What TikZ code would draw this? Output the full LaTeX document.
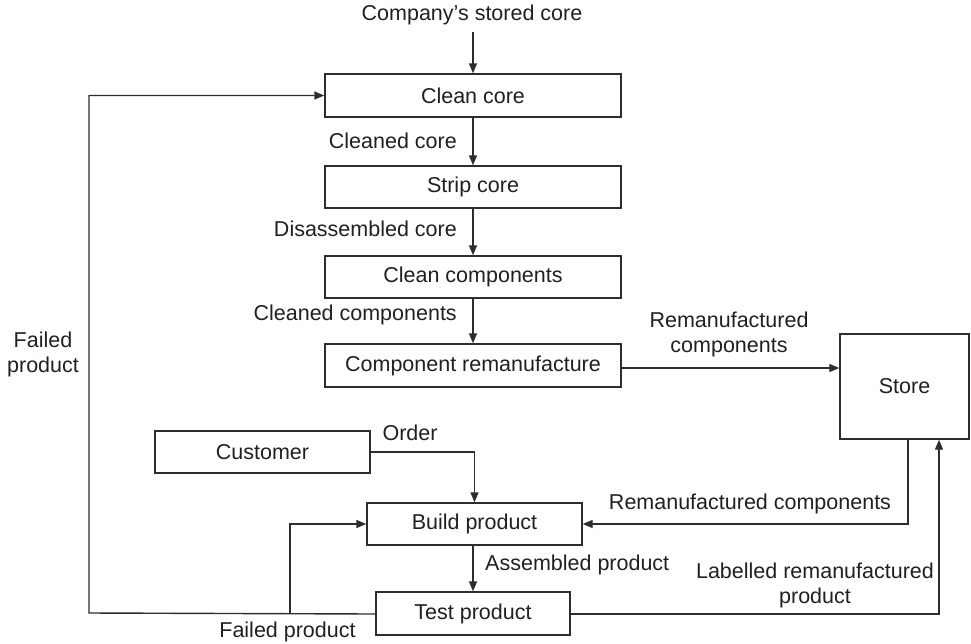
\documentclass[tikz,border=0pt]{standalone}
\usepackage{fontspec}
\setmainfont{Liberation Sans}
\usetikzlibrary{arrows.meta}
\definecolor{ink}{RGB}{35,31,32}
\definecolor{linec}{RGB}{45,45,45}
\begin{document}
\begin{tikzpicture}[x=1pt,y=-1pt,
  font=\fontsize{21.5}{25}\selectfont, text=ink,
  box/.style={draw=linec, line width=1.4pt, rectangle, inner sep=0pt, align=center},
  lbl/.style={inner sep=0pt, align=center},
  arr/.style={draw=linec, line width=1.4pt, -{Triangle[length=10pt,width=8pt]}},
  ln/.style={draw=linec, line width=1.4pt}]
\useasboundingbox (0,0) rectangle (971,643);
% boxes
\node[box, minimum width=296pt, minimum height=43pt] (clean) at (473,95.5) {Clean core};
\node[box, minimum width=296pt, minimum height=42pt] (strip) at (473,187) {Strip core};
\node[box, minimum width=296pt, minimum height=42pt] (cleancomp) at (473,277) {Clean components};
\node[box, minimum width=296pt, minimum height=43pt] (comprem) at (473,365.5) {Component remanufacture};
\node[box, minimum width=129pt, minimum height=105pt] (store) at (904.5,386.5) {Store};
\node[box, minimum width=215pt, minimum height=42pt] (customer) at (262.5,452) {Customer};
\node[box, minimum width=215pt, minimum height=42pt] (build) at (474.5,524) {Build product};
\node[box, minimum width=194pt, minimum height=43pt] (test) at (473,613.5) {Test product};
% labels
\node[lbl] (top) at (472,15) {Company’s stored core};
\node[lbl, anchor=east] (l1) at (457,141) {Cleaned core};
\node[lbl, anchor=east] (l2) at (457,229) {Disassembled core};
\node[lbl, anchor=east] (l3) at (457,315) {Cleaned components};
\node[lbl] (l4) at (729,334) {Remanufactured\\components};
\node[lbl] (l5) at (410,433) {Order};
\node[lbl] (l6) at (43,354) {Failed\\product};
\node[lbl] (l7) at (750,504) {Remanufactured components};
\node[lbl, anchor=west] (l8) at (485,565) {Assembled product};
\node[lbl] (l9) at (815,585) {Labelled remanufactured\\product};
\node[lbl] (l10) at (287.5,632) {Failed product};
% coordinates
\coordinate (topstart) at (473,32);
\coordinate (fb) at (89,613);
\coordinate (fbin) at (290,613);
% connectors
\draw[arr] (topstart) -- (clean.north);
\draw[arr] (clean.south) -- (strip.north);
\draw[arr] (strip.south) -- (cleancomp.north);
\draw[arr] (cleancomp.south) -- (comprem.north);
\draw[arr] ([yshift=-2.5pt]comprem.east) -- ([yshift=-2.5pt]comprem.east -| store.west);
\draw[arr] (customer.east) -| (build.north);
\draw[arr] ([xshift=3.5pt]store.south) |- (build.east);
\draw[arr] ([yshift=-0.5pt]test.west) -- (fb) |- (clean.west);
\draw[arr] (fbin) |- (build.west);
\draw[arr] ([xshift=-1.5pt]build.south) -- ([xshift=-1.5pt]build.south |- test.north);
\draw[arr] ([yshift=-0.5pt]test.east) -| ([xshift=34.5pt]store.south);
\end{tikzpicture}
\end{document}
